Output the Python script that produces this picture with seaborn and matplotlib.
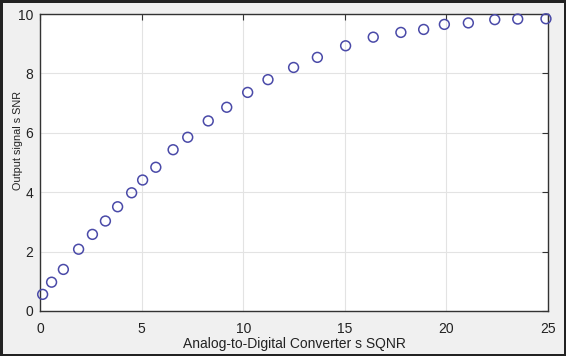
import matplotlib
matplotlib.use('Agg')
import matplotlib.pyplot as plt
import seaborn as sns
import pandas as pd

# values
adc_sqnr = [0.13, 0.57, 1.15, 1.90, 2.58, 3.22, 3.82, 4.51, 5.05, 5.70,
            6.55, 7.27, 8.28, 9.19, 10.22, 11.22, 12.48, 13.65, 15.04,
            16.40, 17.76, 18.88, 19.90, 21.08, 22.38, 23.51, 24.90]
output_snr = [0.56, 0.97, 1.40, 2.08, 2.58, 3.03, 3.51, 3.98, 4.41, 4.84,
              5.43, 5.85, 6.40, 6.86, 7.36, 7.79, 8.20, 8.54, 8.93,
              9.22, 9.38, 9.48, 9.65, 9.70, 9.81, 9.83, 9.84]
x_ticks = [0, 5, 10, 15, 20, 25]
y_ticks = [0, 2, 4, 6, 8, 10]

df = pd.DataFrame({'sqnr': adc_sqnr, 'snr': output_snr})

sns.set_style('whitegrid')
plt.rcParams['font.family'] = ['Liberation Sans', 'DejaVu Sans']

fig = plt.figure(figsize=(5.66, 3.56), dpi=100, facecolor='#f0f0f0',
                 edgecolor='#222222', linewidth=2.5)
ax = fig.add_axes([40 / 566, 45 / 356, 508 / 566, 297 / 356])
ax.set_facecolor('white')

sns.scatterplot(data=df, x='sqnr', y='snr', ax=ax, marker='o', s=50,
                facecolors='none', edgecolor='#4a4aa8', linewidth=1.1,
                clip_on=False, zorder=3)

ax.set_xlim(0, 25)
ax.set_ylim(0, 10)
ax.set_xticks(x_ticks)
ax.set_yticks(y_ticks)
ax.grid(True, color='#e3e3e3', linewidth=0.8)
ax.tick_params(direction='in', length=4, width=0.8, color='#333333',
               labelsize=10, labelcolor='#222222', top=True, right=True,
               labeltop=False, labelright=False)
ax.tick_params(axis='x', pad=8)
ax.tick_params(axis='y', pad=5)
for sp in ax.spines.values():
    sp.set_visible(True)
    sp.set_color('#333333')
    sp.set_linewidth(1.0)

ax.set_xlabel('Analog-to-Digital Converter s SQNR', fontsize=10,
              color='#222222')
ax.set_ylabel('Output signal s SNR', fontsize=7.8, color='#222222')
ax.xaxis.set_label_coords(0.5, -26 / 297)
ax.yaxis.set_label_coords(-17 / 508, 171 / 297)

fig.savefig('out.png', dpi=100, facecolor=fig.get_facecolor(),
            edgecolor=fig.get_edgecolor())
